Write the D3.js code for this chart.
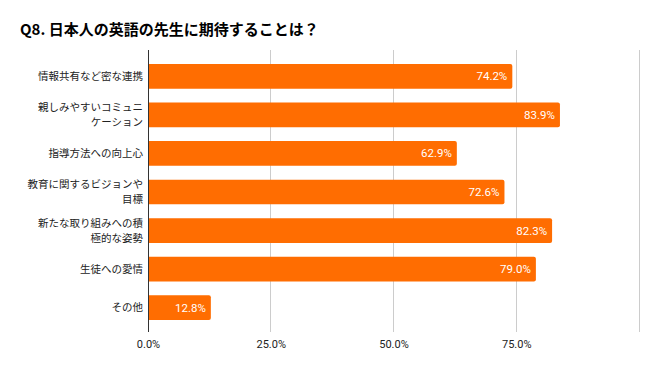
<!DOCTYPE html>
<html>
<head>
<meta charset="utf-8">
<title>Q8</title>
<script src="https://cdn.jsdelivr.net/npm/d3@7"></script>
<style>
  body { margin:0; background:#fff; }
  svg { display:block; font-family:"Noto Sans CJK JP", sans-serif; }
  .tick text { font-family:Roboto, "Noto Sans CJK JP", sans-serif; }
</style>
</head>
<body>
<div id="chart"></div>
<script>
// categories (lines split where the label wraps)
var categories = [
  ["情報共有など密な連携"],
  ["親しみやすいコミュニ", "ケーション"],
  ["指導方法への向上心"],
  ["教育に関するビジョンや", "目標"],
  ["新たな取り組みへの積", "極的な姿勢"],
  ["生徒への愛情"],
  ["その他"]
];
var values = [0.742, 0.839, 0.629, 0.726, 0.823, 0.790, 0.128];
var ticks = [0, 0.25, 0.5, 0.75, 1.0];
var tickLabels = ["0.0%", "25.0%", "50.0%", "75.0%", ""];

var width = 658, height = 371;
var svg = d3.select("#chart").append("svg")
  .attr("width", width).attr("height", height);

svg.append("text")
  .attr("x", 20).attr("y", 35)
  .attr("font-size", 15).attr("font-weight", "bold")
  .attr("fill", "#000")
  .text("Q8. 日本人の英語の先生に期待することは？");

var x = d3.scaleLinear().domain([0, 1]).range([148, 639]);
var y = d3.scaleBand().domain(d3.range(values.length)).range([57, 327]).paddingInner(0.36).paddingOuter(0.18);

// grid
svg.append("g").selectAll("line").data(ticks.slice(1)).enter().append("line")
  .attr("x1", function(d){return x(d);}).attr("x2", function(d){return x(d);})
  .attr("y1", 50).attr("y2", 332)
  .attr("stroke", "#ccc").attr("stroke-width", 1)
  .attr("shape-rendering", "crispEdges");

// bars
svg.append("g").selectAll("path").data(values).enter().append("path")
  .attr("fill", "#ff6d01")
  .attr("d", function(d, i){
    var x0 = x(0), x1 = x(d), y0 = y(i), h = y.bandwidth(), r = 2;
    return "M" + x0 + "," + y0 + "H" + (x1 - r) + "Q" + x1 + "," + y0 + " " + x1 + "," + (y0 + r) +
      "V" + (y0 + h - r) + "Q" + x1 + "," + (y0 + h) + " " + (x1 - r) + "," + (y0 + h) + "H" + x0 + "Z";
  });

// value labels
svg.append("g").selectAll("text").data(values).enter().append("text")
  .attr("x", function(d){return x(d) - 5;})
  .attr("y", function(d, i){return y(i) + y.bandwidth() / 2;})
  .attr("dy", "0.35em")
  .attr("text-anchor", "end")
  .attr("font-family", "Roboto, sans-serif")
  .attr("font-size", 11.5).attr("fill", "#fff")
  .text(function(d){return d3.format(".1%")(d);});

// zero axis line
svg.append("line")
  .attr("x1", x(0)).attr("x2", x(0)).attr("y1", 50).attr("y2", 332)
  .attr("stroke", "#333").attr("stroke-width", 1)
  .attr("shape-rendering", "crispEdges");

// category labels, one text per line
var lineH = 15;
var lab = svg.append("g");
categories.forEach(function(lines, i){
  var cy = y(i) + y.bandwidth() / 2 - (lines.length - 1) * lineH / 2;
  lines.forEach(function(s, j){
    lab.append("text")
      .attr("x", 143).attr("y", cy + j * lineH)
      .attr("dy", "0.35em")
      .attr("text-anchor", "end")
      .attr("font-size", 10.5).attr("fill", "#222")
      .text(s);
  });
});

// x axis
var xAxis = d3.axisBottom(x).tickValues(ticks).tickSize(0).tickPadding(0)
  .tickFormat(function(d, i){return tickLabels[i];});
svg.append("g").attr("transform", "translate(0,340)").call(xAxis)
  .call(function(g){g.select(".domain").remove();})
  .selectAll("text").attr("font-size", 11).attr("fill", "#222");
</script>
</body>
</html>
